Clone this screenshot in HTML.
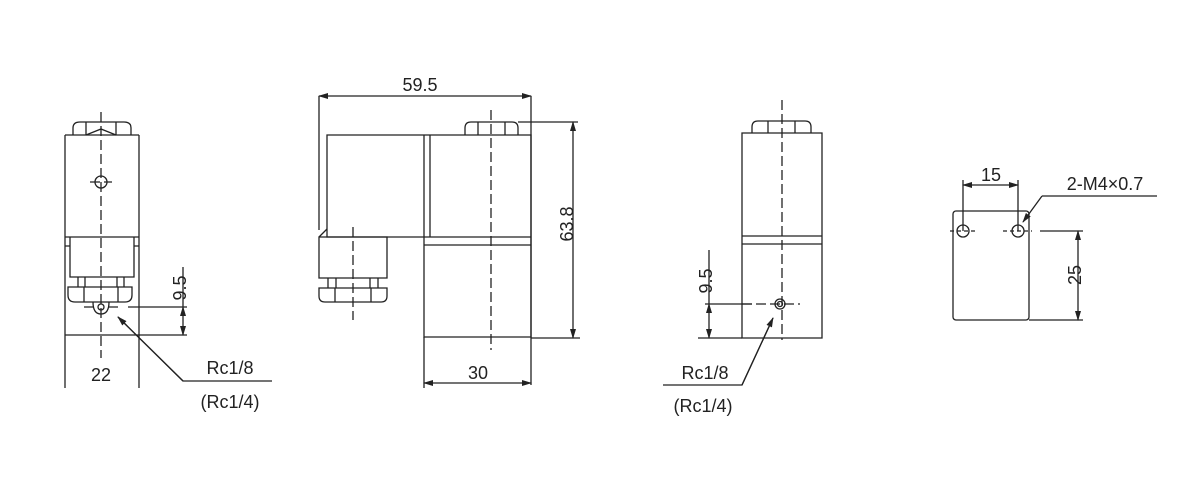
<!DOCTYPE html>
<html><head><meta charset="utf-8"><style>body{margin:0;background:#fff}svg{display:block}text{font-family:"Liberation Sans",sans-serif;font-size:18px;fill:#222;stroke:none}</style></head><body>
<svg width="1200" height="500" viewBox="0 0 1200 500" fill="none" stroke="#222" stroke-width="1.3">
<defs><marker id="a" markerWidth="10" markerHeight="8" refX="9" refY="4" orient="auto-start-reverse" markerUnits="userSpaceOnUse"><path d="M0,1 L10,4 L0,7Z" fill="#222" stroke="none"/></marker></defs>
<!-- View 1 -->
<path d="M65,135V388M139,135V388M65,135H139M65,335H139M65,237H139"/>
<path d="M73,135V128Q73,122 80,122H124Q131,122 131,128V135M86,122V135M116,122V135M86,135L101,129L116,135"/>
<circle cx="101" cy="182" r="6"/>
<path d="M70,237V277H134V237M65,246H70M134,246H139"/>
<path d="M78,277V287M85,277V287M117,277V287M124,277V287M68,287H132V295Q132,302 125,302H75Q68,302 68,295Z M84,287V302M118,287V302"/>
<path d="M93,302Q93,314 101,314Q109,314 109,302"/><circle cx="101" cy="307" r="3"/>
<path d="M101,112V358M84,307H94M108,307H120M90,182H112" stroke-dasharray="10,4"/>
<path d="M128,307H187M139,335H187M183,267V307"/>
<path d="M183,307V335" marker-start="url(#a)" marker-end="url(#a)"/>
<path d="M118,317L183,381H272" /><path d="M183,381L118,317" marker-end="url(#a)"/>
<text x="179" y="295" transform="rotate(-90 179 288)" text-anchor="middle">9.5</text>
<text x="101" y="381" text-anchor="middle">22</text>
<text x="230" y="374" text-anchor="middle">Rc1/8</text>
<text x="230" y="408" text-anchor="middle">(Rc1/4)</text>
<!-- View 2 -->
<path d="M319,96V230M531,96V385M424,337V388"/>
<path d="M319,96H531" marker-start="url(#a)" marker-end="url(#a)"/>
<text x="420" y="91" text-anchor="middle">59.5</text>
<path d="M327,135H531V237H327ZM424,135V337H531V237M430,135V237M424,245H531"/>
<path d="M465,135V128Q465,122 471,122H512Q518,122 518,128V135M478,122V135M505,122V135"/>
<path d="M319,237H387V278H319ZM319,237L327,229M328,278V288M336,278V288M370,278V288M378,278V288M319,288H387V296Q387,302 381,302H325Q319,302 319,296ZM335,288V302M371,288V302"/>
<path d="M353,227V320M491,110V350" stroke-dasharray="10,4"/>
<path d="M518,122H578M531,338H580"/>
<path d="M573,122V338" marker-start="url(#a)" marker-end="url(#a)"/>
<text x="567" y="230" transform="rotate(-90 567 224)" text-anchor="middle">63.8</text>
<path d="M424,383H531" marker-start="url(#a)" marker-end="url(#a)"/>
<text x="478" y="379" text-anchor="middle">30</text>
<!-- View 3 -->
<path d="M742,133H822V338H742ZM742,236H822M742,244H822"/>
<path d="M752,133V127Q752,121 758,121H805Q811,121 811,127V133M768,121V133M795,121V133"/>
<circle cx="780" cy="304" r="5"/><circle cx="780" cy="304" r="2.5"/>
<path d="M782,100V340M742,304H800" stroke-dasharray="10,4"/>
<path d="M705,304H752M698,338H742M709,250V304"/>
<path d="M709,304V338" marker-start="url(#a)" marker-end="url(#a)"/>
<path d="M663,385H742L773,318"/><path d="M742,385L773,318" marker-end="url(#a)"/>
<text x="705" y="288" transform="rotate(-90 705 281)" text-anchor="middle">9.5</text>
<text x="705" y="379" text-anchor="middle">Rc1/8</text>
<text x="703" y="412" text-anchor="middle">(Rc1/4)</text>
<!-- View 4 -->
<rect x="953" y="211" width="76" height="109" rx="3"/>
<circle cx="963" cy="231" r="6"/><circle cx="1018" cy="231" r="6"/>
<path d="M950,231H977M1003,231H1032" stroke-dasharray="4,3"/>
<path d="M963,180V231M1018,180V231"/>
<path d="M963,185H1018" marker-start="url(#a)" marker-end="url(#a)"/>
<text x="991" y="181" text-anchor="middle">15</text>
<path d="M1040,231H1083M1029,320H1083"/>
<path d="M1078,231V320" marker-start="url(#a)" marker-end="url(#a)"/>
<text x="1075" y="281" transform="rotate(-90 1075 275)" text-anchor="middle">25</text>
<path d="M1042,196H1157"/><path d="M1042,196L1023,222" marker-end="url(#a)"/>
<text x="1105" y="190" text-anchor="middle">2-M4×0.7</text>
</svg>
</body></html>
